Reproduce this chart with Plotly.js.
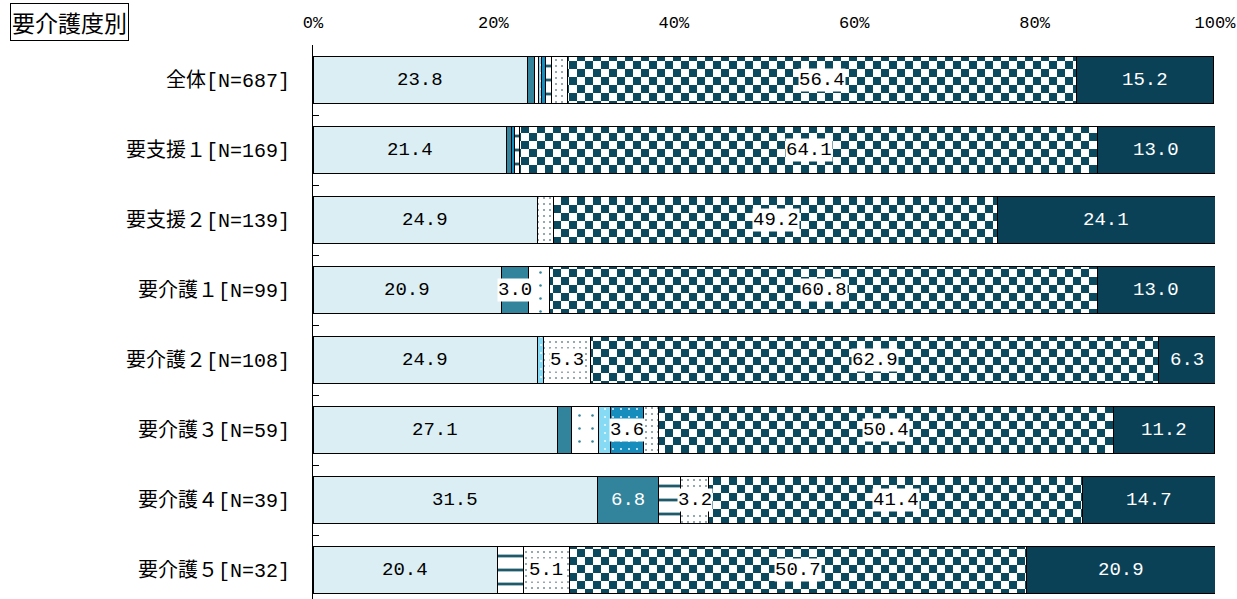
<!DOCTYPE html>
<html><head><meta charset="utf-8">
<script src="https://cdn.plot.ly/plotly-3.0.1.min.js"></script>
<style>html,body{margin:0;padding:0;overflow:hidden;background:#fff}</style>
</head><body><div id="chart" style="width:1237px;height:599px"></div>
<script>
// ---- data ----
const categories = ['全体[N=687]', '要支援１[N=169]', '要支援２[N=139]', '要介護１[N=99]',
                    '要介護２[N=108]', '要介護３[N=59]', '要介護４[N=39]', '要介護５[N=32]'];
const seriesNames = ['項目1', '項目2', '項目3', '項目4', '項目5', '項目6', '項目7', '項目8', '項目9'];
const sLightBlue = [23.8, 21.4, 24.9, 20.9, 24.9, 27.1, 31.5, 20.4];
const sTeal      = [0.8, 0.6, 0, 3.0, 0, 1.6, 6.8, 0];
const sDots      = [0.4, 0, 0, 2.3, 0, 2.9, 0, 0];
const sSky       = [0.3, 0, 0, 0, 0.6, 1.4, 0, 0];
const sBlueDots  = [0.5, 0.3, 0, 0, 0, 3.6, 0, 0];
const sDash      = [0.6, 0.6, 0, 0, 0, 0, 2.4, 2.9];
const sFrame     = [1.8, 0, 1.8, 0, 5.3, 1.7, 3.2, 5.1];
const sChecker   = [56.4, 64.1, 49.2, 60.8, 62.9, 50.4, 41.4, 50.7];
const sDark      = [15.2, 13.0, 24.1, 13.0, 6.3, 11.2, 14.7, 20.9];
const xTickVals  = [0, 20, 40, 60, 80, 100];
const xTickText  = ['0%', '20%', '40%', '60%', '80%', '100%'];
const chartTitle = '要介護度別';

const seriesValues = [sLightBlue, sTeal, sDots, sSky, sBlueDots, sDash, sFrame, sChecker, sDark];

// ---- styles ----
const CHECKER_BASE = '#0b4a5e';
const styles = [
  {marker: {color: '#DAEEF3'}, lab: 'plain'},
  {marker: {color: '#31849B'}, lab: 'teal'},
  {marker: {color: '#FFFFFF', pattern: {shape: '.', fgcolor: '#31849B', bgcolor: '#FFFFFF', size: 13, solidity: 0.03, fillmode: 'replace'}}, lab: 'box'},
  {marker: {color: '#86DAF4', pattern: {shape: '.', fgcolor: '#FFFFFF', bgcolor: '#86DAF4', size: 8, solidity: 0.04, fillmode: 'replace'}}, lab: 'box'},
  {marker: {color: '#168DBD', pattern: {shape: '.', fgcolor: '#FFFFFF', bgcolor: '#168DBD', size: 8, solidity: 0.04, fillmode: 'replace'}}, lab: 'box'},
  {marker: {color: '#FFFFFF', pattern: {shape: '-', fgcolor: '#1F5A6B', bgcolor: '#FFFFFF', size: 14, solidity: 0.2, fillmode: 'replace'}}, lab: 'box'},
  {marker: {color: '#FFFFFF', pattern: {shape: '.', fgcolor: '#0B3C50', bgcolor: '#FFFFFF', size: 6, solidity: 0.06, fillmode: 'replace'}}, lab: 'box'},
  {marker: {color: CHECKER_BASE}, lab: 'box'},
  {marker: {color: '#0A4157'}, lab: 'dark'}
];

const monoFont = 'Liberation Mono, Noto Sans CJK JP, monospace';

const traces = seriesValues.map((vals, i) => ({
  type: 'bar', orientation: 'h', name: seriesNames[i],
  x: vals, y: categories,
  marker: Object.assign({}, styles[i].marker, {line: {color: '#000000', width: 1}}),
  hoverinfo: 'none', showlegend: false
}));

// ---- data labels ----
const annotations = [];
categories.forEach((cat, r) => {
  let cum = 0;
  seriesValues.forEach((vals, i) => {
    const v = vals[r] || 0;
    if (v >= 3) {
      const kind = styles[i].lab;
      let color = '#000000', bg = 'rgba(0,0,0,0)';
      if (kind === 'box') { bg = '#FFFFFF'; }
      else if (kind === 'teal') { if (v < 5) { bg = '#FFFFFF'; } else { color = '#FFFFFF'; } }
      else if (kind === 'dark') { color = '#FFFFFF'; }
      annotations.push({
        x: cum + v / 2, y: cat, xref: 'x', yref: 'y', text: v.toFixed(1), showarrow: false,
        font: {family: monoFont, size: 19, color: color}, bgcolor: bg, borderpad: 0
      });
    }
    cum += v;
  });
});

annotations.push({
  xref: 'paper', yref: 'paper', x: -0.336, y: 1.041, xanchor: 'left', yanchor: 'middle',
  text: chartTitle, showarrow: false, font: {family: 'Noto Sans CJK JP', size: 23, color: '#000'},
  bordercolor: '#000000', borderwidth: 1, borderpad: 1, bgcolor: '#FFFFFF'
});

const layout = {
  width: 1237, height: 599,
  margin: {l: 313, r: 22, t: 45, b: 0, autoexpand: false},
  barmode: 'stack', bargap: 0.34,
  paper_bgcolor: '#FFFFFF', plot_bgcolor: '#FFFFFF',
  showlegend: false,
  xaxis: {
    side: 'top', range: [0, 100], tickvals: xTickVals, ticktext: xTickText,
    showgrid: false, zeroline: false, showline: false, ticks: '',
    tickfont: {family: monoFont, size: 17, color: '#000'}, ticklabelstandoff: 13, automargin: false
  },
  yaxis: {
    type: 'category', range: [7.414, -0.5], autorange: false,
    showgrid: false, zeroline: false, showline: true, linecolor: '#000', linewidth: 1,
    ticks: 'inside', tickson: 'boundaries', ticklen: 6, tickcolor: '#000', tickwidth: 1,
    tickfont: {family: monoFont, size: 20, color: '#000'}, ticklabelstandoff: 18, automargin: false
  },
  annotations: annotations
};

Plotly.newPlot('chart', traces, layout, {staticPlot: true}).then(gd => {
  // Replace flat fill of the checker series with a checkerboard pattern
  const svg = gd.querySelector('svg.main-svg');
  const ns = 'http://www.w3.org/2000/svg';
  let defs = svg.querySelector('defs');
  if (!defs) { defs = document.createElementNS(ns, 'defs'); svg.insertBefore(defs, svg.firstChild); }
  const pat = document.createElementNS(ns, 'pattern');
  pat.setAttribute('id', 'chkpat');
  pat.setAttribute('patternUnits', 'userSpaceOnUse');
  pat.setAttribute('width', '16'); pat.setAttribute('height', '16');
  const mk = (x, y, w, h, f) => { const r = document.createElementNS(ns, 'rect');
    r.setAttribute('x', x); r.setAttribute('y', y); r.setAttribute('width', w); r.setAttribute('height', h);
    r.setAttribute('fill', f); pat.appendChild(r); };
  mk(0, 0, 16, 16, '#FFFFFF'); mk(0, 0, 8, 8, CHECKER_BASE); mk(8, 8, 8, 8, CHECKER_BASE);
  defs.appendChild(pat);
  gd.querySelectorAll('.barlayer path').forEach(p => {
    const f = (p.style.fill || '').replace(/\s/g, '');
    if (f === 'rgb(11,74,94)') p.style.fill = 'url(#chkpat)';
  });
});
</script></body></html>
